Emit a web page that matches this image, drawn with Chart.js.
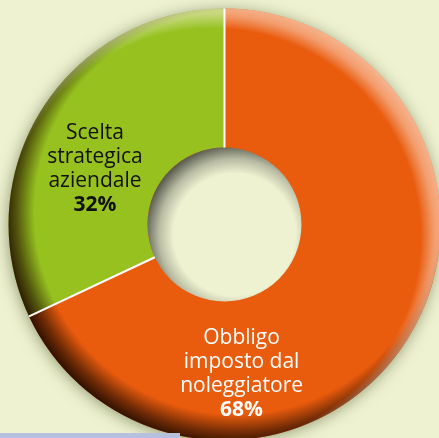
<!DOCTYPE html>
<html><head><meta charset="utf-8">
<script src="https://cdn.jsdelivr.net/npm/chart.js@4/dist/chart.umd.min.js"></script>
<style>
html,body{margin:0;padding:0;background:#eef2d1;overflow:hidden;width:439px;height:438px;}
#wrap{position:absolute;left:0;top:0;width:449px;height:449px;}
#bar{position:absolute;left:0;top:433px;width:180px;height:5px;background:#b6c1de;}
</style></head><body>
<div id="wrap"><canvas id="c" width="449" height="449"></canvas></div>
<div id="bar"></div>
<script>
// ---- data ----
const categories = ['Obbligo imposto dal noleggiatore', 'Scelta strategica aziendale'];
const labelLines = [['Obbligo', 'imposto dal', 'noleggiatore'], ['Scelta', 'strategica', 'aziendale']];
const values = [68, 32];
const percentLabels = ['68%', '32%'];

// ---- style ----
const sliceColors = ['#e95b0d', '#96c11f'];
const textColors = ['#ffffff', '#111111'];
const labelPolar = [{angle: 83.4, r: 0.6875}, {angle: 203.9, r: 0.656}];
const BG = '#eef2d1';
const FONT = '"Open Sans", sans-serif';

const shadePlugin = {
  id: 'shade',
  beforeDatasetsDraw(chart) {
    const arc = chart.getDatasetMeta(0).data[0];
    const {x, y, outerRadius} = arc.getProps(['x', 'y', 'outerRadius'], true);
    const ctx = chart.ctx;
    ctx.save();
    ctx.shadowColor = 'rgba(60,70,25,0.55)';
    ctx.shadowBlur = 16;
    ctx.shadowOffsetX = -1;
    ctx.shadowOffsetY = 2;
    ctx.beginPath();
    ctx.arc(x, y, outerRadius - 1, 0, Math.PI * 2);
    ctx.fillStyle = sliceColors[0];
    ctx.fill();
    ctx.restore();
  },
  afterDatasetsDraw(chart) {
    const meta = chart.getDatasetMeta(0);
    const arc0 = meta.data[0];
    const {x, y, outerRadius: R, innerRadius: r} = arc0.getProps(['x', 'y', 'outerRadius', 'innerRadius'], true);
    const ctx = chart.ctx;

    // rim shading (clip to annulus)
    ctx.save();
    ctx.beginPath();
    ctx.arc(x, y, R, 0, Math.PI * 2);
    ctx.arc(x, y, r, 0, Math.PI * 2, true);
    ctx.clip();
    // dark toward bottom-left
    let g = ctx.createRadialGradient(x + 12, y - 12, 0, x + 12, y - 12, R + 17);
    g.addColorStop(0, 'rgba(35,12,0,0)');
    g.addColorStop((R - 14) / (R + 17), 'rgba(35,12,0,0)');
    g.addColorStop((R + 4) / (R + 17), 'rgba(35,12,0,0.6)');
    g.addColorStop(1, 'rgba(35,12,0,0.95)');
    ctx.fillStyle = g;
    ctx.fillRect(x - R - 2, y - R - 2, 2 * R + 4, 2 * R + 4);
    // highlight toward top-right
    g = ctx.createRadialGradient(x - 12, y + 12, 0, x - 12, y + 12, R + 17);
    g.addColorStop(0, 'rgba(255,255,255,0)');
    g.addColorStop((R - 8) / (R + 17), 'rgba(255,255,255,0)');
    g.addColorStop((R + 6) / (R + 17), 'rgba(255,240,230,0.45)');
    g.addColorStop(1, 'rgba(255,240,230,0.6)');
    ctx.fillStyle = g;
    ctx.fillRect(x - R - 2, y - R - 2, 2 * R + 4, 2 * R + 4);
    ctx.restore();

    // hole shading
    ctx.save();
    ctx.beginPath();
    ctx.arc(x, y, r, 0, Math.PI * 2);
    ctx.clip();
    g = ctx.createRadialGradient(x + 10, y + 10, 0, x + 10, y + 10, r + 13);
    g.addColorStop(0, BG);
    g.addColorStop(0.68, BG);
    g.addColorStop(0.84, '#b8bba2');
    g.addColorStop(1, '#5a5d4f');
    ctx.fillStyle = g;
    ctx.fillRect(x - r - 2, y - r - 2, 2 * r + 4, 2 * r + 4);
    ctx.restore();

    // white separators at slice boundaries
    ctx.save();
    ctx.strokeStyle = '#ffffff';
    ctx.lineWidth = 2;
    meta.data.forEach(a => {
      const p = a.getProps(['startAngle'], true);
      ctx.beginPath();
      ctx.moveTo(x + r * Math.cos(p.startAngle), y + r * Math.sin(p.startAngle));
      ctx.lineTo(x + R * Math.cos(p.startAngle), y + R * Math.sin(p.startAngle));
      ctx.stroke();
    });
    ctx.restore();

    // labels
    ctx.save();
    ctx.textAlign = 'center';
    ctx.textBaseline = 'alphabetic';
    meta.data.forEach((a, i) => {
      const pl = labelPolar[i];
      const ang = pl.angle * Math.PI / 180;
      const cx = x + pl.r * R * Math.cos(ang);
      const cy = y + pl.r * R * Math.sin(ang);
      const base = cy - 28.5;
      ctx.fillStyle = textColors[i];
      ctx.font = '21px ' + FONT;
      labelLines[i].forEach((t, k) => ctx.fillText(t, cx, base + 24 * k));
      ctx.font = 'bold 21px ' + FONT;
      ctx.fillText(percentLabels[i], cx, base + 72);
    });
    ctx.restore();
  }
};

new Chart(document.getElementById('c'), {
  type: 'doughnut',
  data: {
    labels: categories,
    datasets: [{
      data: values,
      backgroundColor: sliceColors,
      borderWidth: 0
    }]
  },
  options: {
    responsive: false,
    animation: false,
    radius: 216,
    cutout: 80,
    layout: {padding: 0},
    plugins: {legend: {display: false}, tooltip: {enabled: false}},
    events: []
  },
  plugins: [shadePlugin]
});
</script>
</body></html>
